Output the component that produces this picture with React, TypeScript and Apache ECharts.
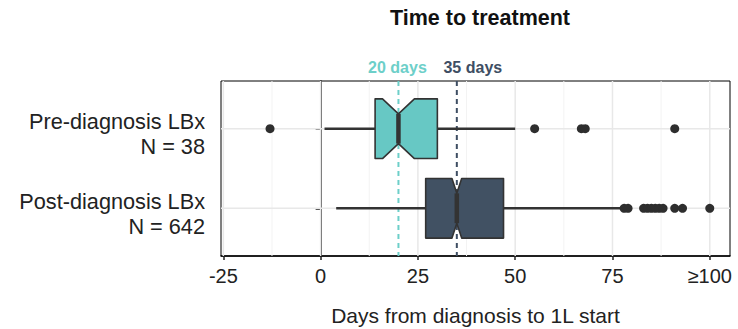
import React, { useEffect, useRef } from "react";
import * as echarts from "echarts";

const categories = ["Pre-diagnosis LBx", "Post-diagnosis LBx"];
const groupN = [38, 642];
// [whiskerLow, q1, median, q3, whiskerHigh]
const boxStats = [
  [1, 14, 20, 30, 50],
  [4, 27, 35, 47, 77],
];
const preOutliers = [-13, 55, 67, 68, 91];
const postOutliers = [78, 79, 83, 84, 85, 86, 87, 88, 91, 93, 100];
const xTicks = [-25, 0, 25, 50, 75, 100];
const xMinorTicks = [-12.5, 12.5, 37.5, 62.5, 87.5];
const refDays = [20, 35];
const refLabels = ["20 days", "35 days"];

const fillColors = ["#67C8C4", "#415163"];
const refColors = ["#6DCFC9", "#3E4E63"];
const lineDark = "#333333";
const FONT = "'Liberation Sans', Arial, Helvetica, sans-serif";

export default function App() {
  const ref = useRef<HTMLDivElement>(null);
  useEffect(() => {
    if (!ref.current) return;
    const chart = echarts.init(ref.current, undefined, { renderer: "svg" });

    const boxData = boxStats.map((s, i) => [i + 1, ...s, groupN[i]]);
    const outlierData: number[][] = [];
    preOutliers.forEach((v) => outlierData.push([v, 1]));
    postOutliers.forEach((v) => outlierData.push([v, 2]));

    const hw = 0.375;
    const YMIN = 0.4;
    const YMAX = 2.6;
    const XMIN = -25.6;
    const XMAX = 105.2;

    const option: any = {
      animation: false,
      textStyle: { fontFamily: FONT },
      title: {
        text: "Time to treatment",
        left: 475,
        top: 2,
        textAlign: "center",
        textStyle: { fontFamily: FONT, fontWeight: "bold", fontSize: 21.5, color: "#111" },
      },
      grid: {
        left: 221,
        right: 8,
        top: 81,
        bottom: 73,
        outerBoundsMode: "none",
        containLabel: false,
        show: true,
        borderColor: "#000",
        borderWidth: 1,
        backgroundColor: "#fff",
      },
      xAxis: {
        type: "value",
        min: XMIN,
        max: XMAX,
        name: "Days from diagnosis to 1L start",
        nameLocation: "middle",
        nameGap: 49,
        nameTextStyle: { fontFamily: FONT, fontSize: 21, color: "#222" },
        axisLine: { show: true, onZero: false, lineStyle: { color: "#000", width: 1.5 } },
        axisTick: { show: true, length: 4, customValues: xTicks, lineStyle: { color: "#222", width: 1.5 } },
        axisLabel: {
          customValues: xTicks,
          margin: 10,
          fontFamily: FONT,
          fontSize: 20,
          color: "#222",
          formatter: (v: number) => (v === 100 ? "≥100" : String(v)),
        },
        splitLine: { show: false },
      },
      yAxis: {
        type: "value",
        inverse: true,
        min: YMIN,
        max: YMAX,
        axisLine: { show: true, lineStyle: { color: "#000", width: 1.5 } },
        axisTick: { show: true, length: 5, customValues: [1, 2], lineStyle: { color: "#222", width: 1.5 } },
        axisLabel: { show: false },
        splitLine: { show: false },
      },
      series: [
        {
          type: "custom",
          z: 1,
          silent: true,
          data: [[0, 0]],
          renderItem: (params: any, api: any) => {
            const children: any[] = [];
            xMinorTicks.forEach((v) => {
              const a = api.coord([v, YMIN]);
              const b = api.coord([v, YMAX]);
              children.push({ type: "line", shape: { x1: a[0], y1: a[1], x2: b[0], y2: b[1] }, style: { stroke: "#F3F3F3", lineWidth: 1 } });
            });
            xTicks.forEach((v) => {
              const a = api.coord([v, YMIN]);
              const b = api.coord([v, YMAX]);
              children.push({ type: "line", shape: { x1: a[0], y1: a[1], x2: b[0], y2: b[1] }, style: { stroke: "#E8E8E8", lineWidth: 1.5 } });
            });
            [1, 2].forEach((v) => {
              const a = api.coord([XMIN, v]);
              const b = api.coord([XMAX, v]);
              children.push({ type: "line", shape: { x1: a[0], y1: a[1], x2: b[0], y2: b[1] }, style: { stroke: "#E8E8E8", lineWidth: 1.5 } });
            });
            return { type: "group", children };
          },
        },
        {
          type: "custom",
          z: 5,
          silent: true,
          clip: false,
          data: categories.map((c, i) => [XMIN, i + 1]),
          renderItem: (params: any, api: any) => {
            const i = params.dataIndex;
            const p = api.coord([api.value(0), api.value(1)]);
            return {
              type: "text",
              x: p[0] - 16,
              y: p[1] - 19.5,
              style: {
                text: categories[i] + "\nN = " + groupN[i],
                fill: "#222",
                font: `21.7px ${FONT}`,
                lineHeight: 25,
                align: "right",
                verticalAlign: "top",
              },
            };
          },
        },
        {
          type: "custom",
          z: 2,
          silent: true,
          data: refDays.map((d, i) => [d, i]),
          renderItem: (params: any, api: any) => {
            const d = api.value(0);
            const i = params.dataIndex;
            const top = api.coord([d, YMIN]);
            const bottom = api.coord([d, YMAX]);
            const shift = i === 0 ? -1 : 16;
            return {
              type: "group",
              children: [
                {
                  type: "line",
                  shape: { x1: top[0], y1: top[1], x2: bottom[0], y2: bottom[1] },
                  style: { stroke: refColors[i], lineWidth: 2, lineDash: [5, 4] },
                },
                {
                  type: "text",
                  x: top[0] + shift,
                  y: top[1] - 14,
                  style: {
                    text: refLabels[i],
                    fill: refColors[i],
                    font: `bold 16px ${FONT}`,
                    align: "center",
                    verticalAlign: "middle",
                  },
                },
              ],
            };
          },
        },
        {
          type: "custom",
          z: 3,
          data: boxData,
          renderItem: (params: any, api: any) => {
            const y = api.value(0);
            const lo = api.value(1);
            const q1 = api.value(2);
            const med = api.value(3);
            const q3 = api.value(4);
            const hi = api.value(5);
            const n = api.value(6);
            const notch = (1.58 * (q3 - q1)) / Math.sqrt(n);
            const nLo = med - notch;
            const nHi = med + notch;
            const c = (x: number, yy: number) => api.coord([x, yy]);
            const pts = [
              c(q1, y - hw),
              c(nLo, y - hw),
              c(med, y - hw / 2),
              c(nHi, y - hw),
              c(q3, y - hw),
              c(q3, y + hw),
              c(nHi, y + hw),
              c(med, y + hw / 2),
              c(nLo, y + hw),
              c(q1, y + hw),
            ];
            const idx = params.dataIndex;
            const w1 = c(lo, y);
            const w2 = c(q1, y);
            const w3 = c(q3, y);
            const w4 = c(hi, y);
            const m1 = c(med, y - hw / 2);
            const m2 = c(med, y + hw / 2);
            return {
              type: "group",
              children: [
                { type: "line", z2: 1, shape: { x1: w1[0], y1: w1[1], x2: w2[0], y2: w2[1] }, style: { stroke: lineDark, lineWidth: 2.6 } },
                { type: "line", z2: 1, shape: { x1: w3[0], y1: w3[1], x2: w4[0], y2: w4[1] }, style: { stroke: lineDark, lineWidth: 2.6 } },
                {
                  type: "polygon",
                  z2: 2,
                  shape: { points: pts },
                  style: { fill: fillColors[idx], stroke: lineDark, lineWidth: 1.6, lineJoin: "round" },
                },
                { type: "line", z2: 3, shape: { x1: m1[0], y1: m1[1], x2: m2[0], y2: m2[1] }, style: { stroke: lineDark, lineWidth: 4.5 } },
              ],
            };
          },
        },
        {
          type: "scatter",
          z: 4,
          data: outlierData,
          symbol: "circle",
          symbolSize: 9,
          itemStyle: { color: "#2E2E2E", opacity: 1 },
        },
      ],
    };
    chart.setOption(option);
    return () => chart.dispose();
  }, []);
  return (
    <div style={{ position: "absolute", left: 0, top: 0 }}>
      <div ref={ref} style={{ width: 738, height: 329 }} />
    </div>
  );
}
